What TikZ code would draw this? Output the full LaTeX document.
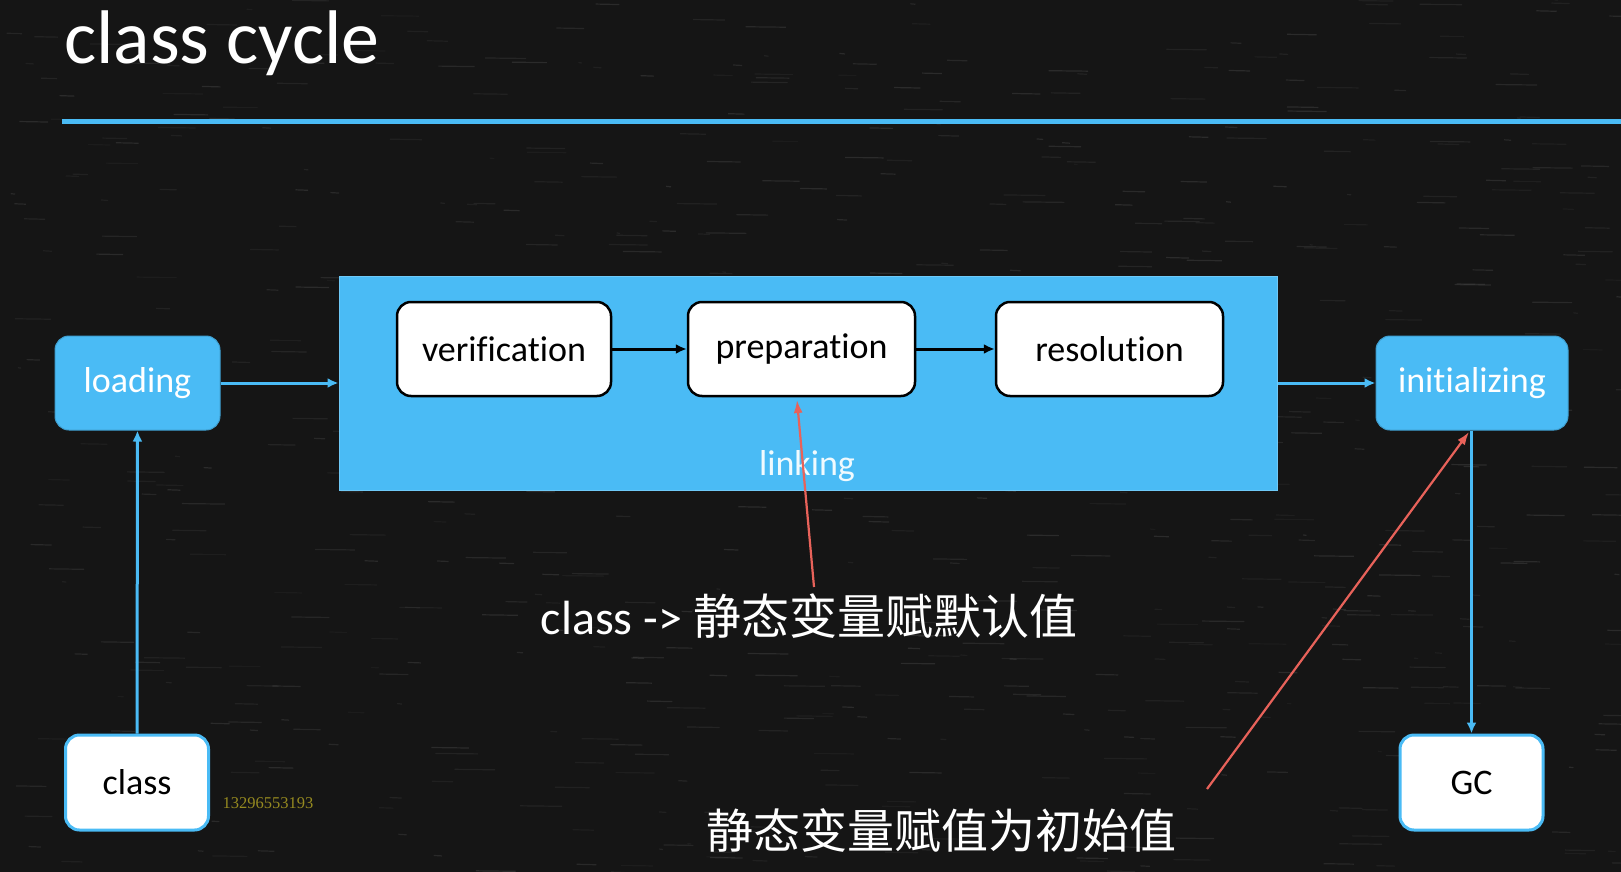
\documentclass[tikz,border=0pt]{standalone}
\usepackage{fontspec}
\setmainfont{Carlito}[Ligatures={NoCommon}]
\newfontfamily\cjk{Noto Sans CJK SC}
\newfontfamily\numfont{Liberation Serif}
\usetikzlibrary{arrows.meta}

\definecolor{board}{HTML}{151515}
\definecolor{sky}{RGB}{74,187,245}
\definecolor{alertred}{RGB}{232,98,90}
\definecolor{olive}{RGB}{150,138,32}

\begin{document}
\begin{tikzpicture}[x=1pt,y=-1pt,
  boxfont/.style={font=\fontsize{36}{43}\selectfont},
  stage/.style={boxfont, draw=sky!85!black, fill=sky, rounded corners=14pt,
    line width=1pt, text=white, minimum height=94pt, inner sep=0pt},
  phase/.style={boxfont, draw=black, fill=white, rounded corners=14pt,
    line width=2.5pt, text=black, minimum height=94pt, inner sep=0pt},
  endpoint/.style={boxfont, draw=sky, fill=white, rounded corners=14pt,
    line width=3pt, text=black, minimum width=143pt, minimum height=95pt, inner sep=0pt},
  flow/.style={draw=sky, line width=3pt, -{Latex[length=11pt,width=10pt]}},
  chain/.style={draw=black, line width=3pt, -{Latex[length=11pt,width=10pt]}},
  callout/.style={draw=alertred, line width=2.2pt, -{Latex[length=13pt,width=9pt]}}
]
% chalkboard
\useasboundingbox (0,0) rectangle (1621,872);
\fill[board] (0,0) rectangle (1621,872);
\pgfmathsetseed{4711}
\foreach \i in {1,...,700}{
  \pgfmathsetmacro{\px}{rnd*1621}
  \pgfmathsetmacro{\py}{rnd*872}
  \pgfmathsetmacro{\pl}{3+rnd*40}
  \pgfmathsetmacro{\po}{0.03+rnd*0.07}
  \draw[white, opacity=\po, line width=1.2pt] (\px,\py) -- ++(\pl,0.5);
}

% title and rule
\node[anchor=base west, text=white, font=\fontsize{76}{80}\selectfont, inner sep=0pt]
  (title) at (64,64) {class cycle};
\coordinate (ruleL) at (62,122);
\coordinate (ruleR) at (1621,122);
\draw[sky, line width=5pt] (ruleL) -- (ruleR);

% linking phase
\node[fill=sky, draw=sky!80!white, line width=1pt, minimum width=938pt, minimum height=214pt,
  inner sep=0pt] (linking) at (808,383) {};
\node[boxfont, text=white!92!sky] (linklabel) at (807,466) {linking};
\node[phase, minimum width=214pt] (verif) at (504,349) {verification};
\node[phase, minimum width=227pt] (prep) at (801.5,349) {preparation};
\node[phase, minimum width=227pt] (resol) at (1109.5,349) {resolution};
\draw[chain] (verif) -- (prep);
\draw[chain] (prep) -- (resol);

% outer stages
\node[stage, minimum width=165pt] (loading) at (137.5,383) {loading};
\node[stage, minimum width=192pt] (init) at (1472,383) {initializing};
\node[endpoint] (class) at (137,782.5) {class};
\node[endpoint] (gc) at (1471.5,782.5) {GC};

\draw[flow] (loading) -- (linking.west |- loading);
\draw[flow] (linking.east |- init) -- (init);
\draw[flow] (class) -- (loading);
\draw[flow] (init.south -| gc) -- (gc);

\node[text=olive, font=\numfont\fontsize{16.5}{18}\selectfont] (num) at (268,803) {13296553193};

% notes
\node[text=white, inner sep=0pt] (note1) at (809,616)
  {\fontsize{48}{56}\selectfont class -> {\cjk\fontsize{48}{56}\selectfont 静态变量赋默认值}};
\node[text=white, inner sep=0pt, font=\cjk\fontsize{47}{52}\selectfont] (note2) at (941,830)
  {静态变量赋值为初始值};
\coordinate (n1) at (814,587);
\coordinate (n2) at (1207,789);
\draw[callout] (n1) -- (797,400);
\draw[callout] (n2) -- (1469,432);
\end{tikzpicture}
\end{document}
